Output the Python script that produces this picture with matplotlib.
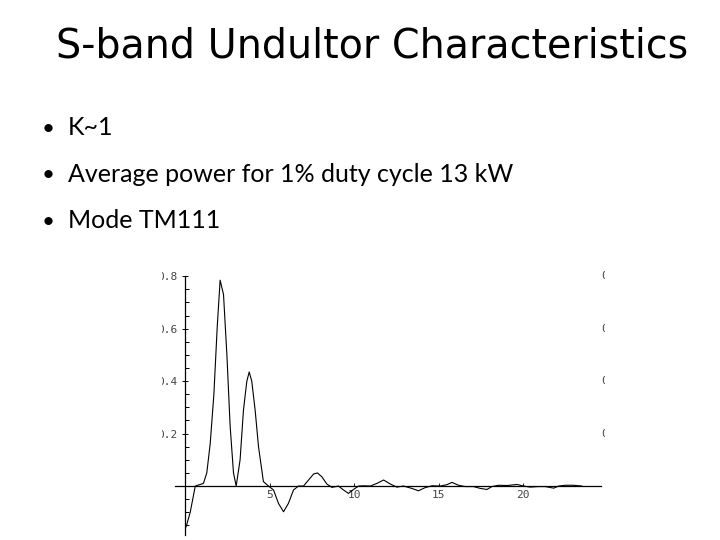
import matplotlib
matplotlib.use("Agg")
import matplotlib.pyplot as plt
from matplotlib.transforms import Bbox

# slide text
title = "S-band Undultor Characteristics"
bullets = ["K~1", "Average power for 1% duty cycle 13 kW", "Mode TM111"]

# curve
x_vals = [0.06, 0.3, 0.6, 1.08, 1.28, 1.48, 1.7, 1.9, 2.07, 2.27, 2.47, 2.66, 2.86,
          3.02, 3.25, 3.45, 3.65, 3.79, 3.94, 4.14, 4.34, 4.63, 4.93, 5.23, 5.52,
          5.82, 6.11, 6.41, 6.7, 7.0, 7.3, 7.6, 7.83, 8.09, 8.38, 8.68, 9.07, 9.37,
          9.66, 9.96, 10.26, 10.55, 10.95, 11.34, 11.74, 12.13, 12.52, 12.92, 13.41,
          13.8, 14.2, 14.6, 15.09, 15.48, 15.78, 16.17, 16.57, 17.06, 17.46, 17.85,
          18.15, 18.54, 19.04, 19.63, 20.02, 20.41, 20.9, 21.3, 21.8, 22.1, 22.49,
          22.98, 23.47]
y_vals = [-0.155, -0.10, 0.0, 0.01, 0.05, 0.16, 0.35, 0.61, 0.785, 0.73, 0.5, 0.23,
          0.05, 0.0, 0.1, 0.29, 0.40, 0.435, 0.40, 0.29, 0.15, 0.017, 0.0, -0.015,
          -0.066, -0.098, -0.066, -0.015, 0.0, 0.0, 0.023, 0.046, 0.05, 0.035, 0.008,
          -0.005, 0.0, -0.015, -0.028, -0.013, 0.0, 0.001, 0.0, 0.01, 0.023, 0.008,
          -0.004, 0.0, -0.009, -0.018, -0.006, 0.001, 0.0, 0.005, 0.014, 0.003, -0.002,
          -0.002, -0.009, -0.013, -0.002, 0.003, 0.002, 0.006, 0.0, -0.004, -0.002,
          -0.002, -0.008, 0.0, 0.003, 0.003, 0.0]

y_ticks = [0.2, 0.4, 0.6, 0.8]
y_labels = ["0.2", "0.4", "0.6", "0.8"]
x_ticks = [5, 10, 15, 20]
x_labels = ["5", "10", "15", "20"]

W, H = 720, 540
fig = plt.figure(figsize=(7.2, 5.4), dpi=100)

fig.text(372 / W, 1 - 58 / H, title, ha="center", va="baseline",
         fontsize=28.5, family="DejaVu Sans", color="black")

for i, b in enumerate(bullets):
    yb = 1 - (135 + 46.5 * i) / H
    fig.text(42 / W, yb, "\u2022", ha="left", va="baseline", fontsize=16,
             family="Lato", color="black")
    fig.text(68 / W, yb, b, ha="left", va="baseline", fontsize=18,
             family="Lato", color="black")

# embedded plot: x -0.6..24.6 -> px 175..601, y -0.2..0.82 -> px 538.5..271
ax = fig.add_axes([175 / W, (H - 538.5) / H, 426 / W, (538.5 - 271) / H])
ax.set_xlim(-0.6, 24.6)
ax.set_ylim(-0.2, 0.82)
ax.patch.set_visible(False)

ax.plot(x_vals, y_vals, color="black", linewidth=0.8)

for s in ["top", "right"]:
    ax.spines[s].set_visible(False)
ax.spines["left"].set_position(("data", 0))
ax.spines["bottom"].set_position(("data", 0))
ax.spines["left"].set_bounds(-0.187, 0.8)
ax.spines["bottom"].set_bounds(-0.6, 24.6)
for s in ["left", "bottom"]:
    ax.spines[s].set_linewidth(0.9)

ax.set_yticks(y_ticks, y_labels)
ax.set_yticks([v / 20 for v in range(-3, 17) if v % 4 != 0], minor=True)
ax.set_xticks(x_ticks, x_labels)
ax.tick_params(axis="y", which="major", direction="inout", length=5, width=0.7,
               labelsize=8, pad=3, labelcolor="#444444")
ax.tick_params(axis="y", which="minor", direction="in", length=3, width=0.7)
ax.tick_params(axis="x", which="major", direction="in", length=2, width=0.6,
               labelsize=8, pad=3, labelcolor="#444444")
for lbl in ax.get_xticklabels() + ax.get_yticklabels():
    lbl.set_family("DejaVu Sans Mono")

# the picture is cropped on both sides, so the outer labels are cut
right_clip = Bbox.from_extents(600, 0, 605, H)
for v, lab in zip(y_ticks, y_labels):
    ax.text(1.0, v, lab, transform=ax.get_yaxis_transform(), ha="left",
            va="center", fontsize=8, family="DejaVu Sans Mono", color="#444444",
            clip_on=True, clip_box=right_clip)

fig.canvas.draw()
left_clip = Bbox.from_extents(162, 0, 185, H)
for t in ax.yaxis.get_major_ticks():
    t.label1.set_clip_on(True)
    t.label1.set_clip_box(left_clip)
for t in ax.texts:
    t.set_clip_box(right_clip)

fig.savefig("out.png", dpi=100)
